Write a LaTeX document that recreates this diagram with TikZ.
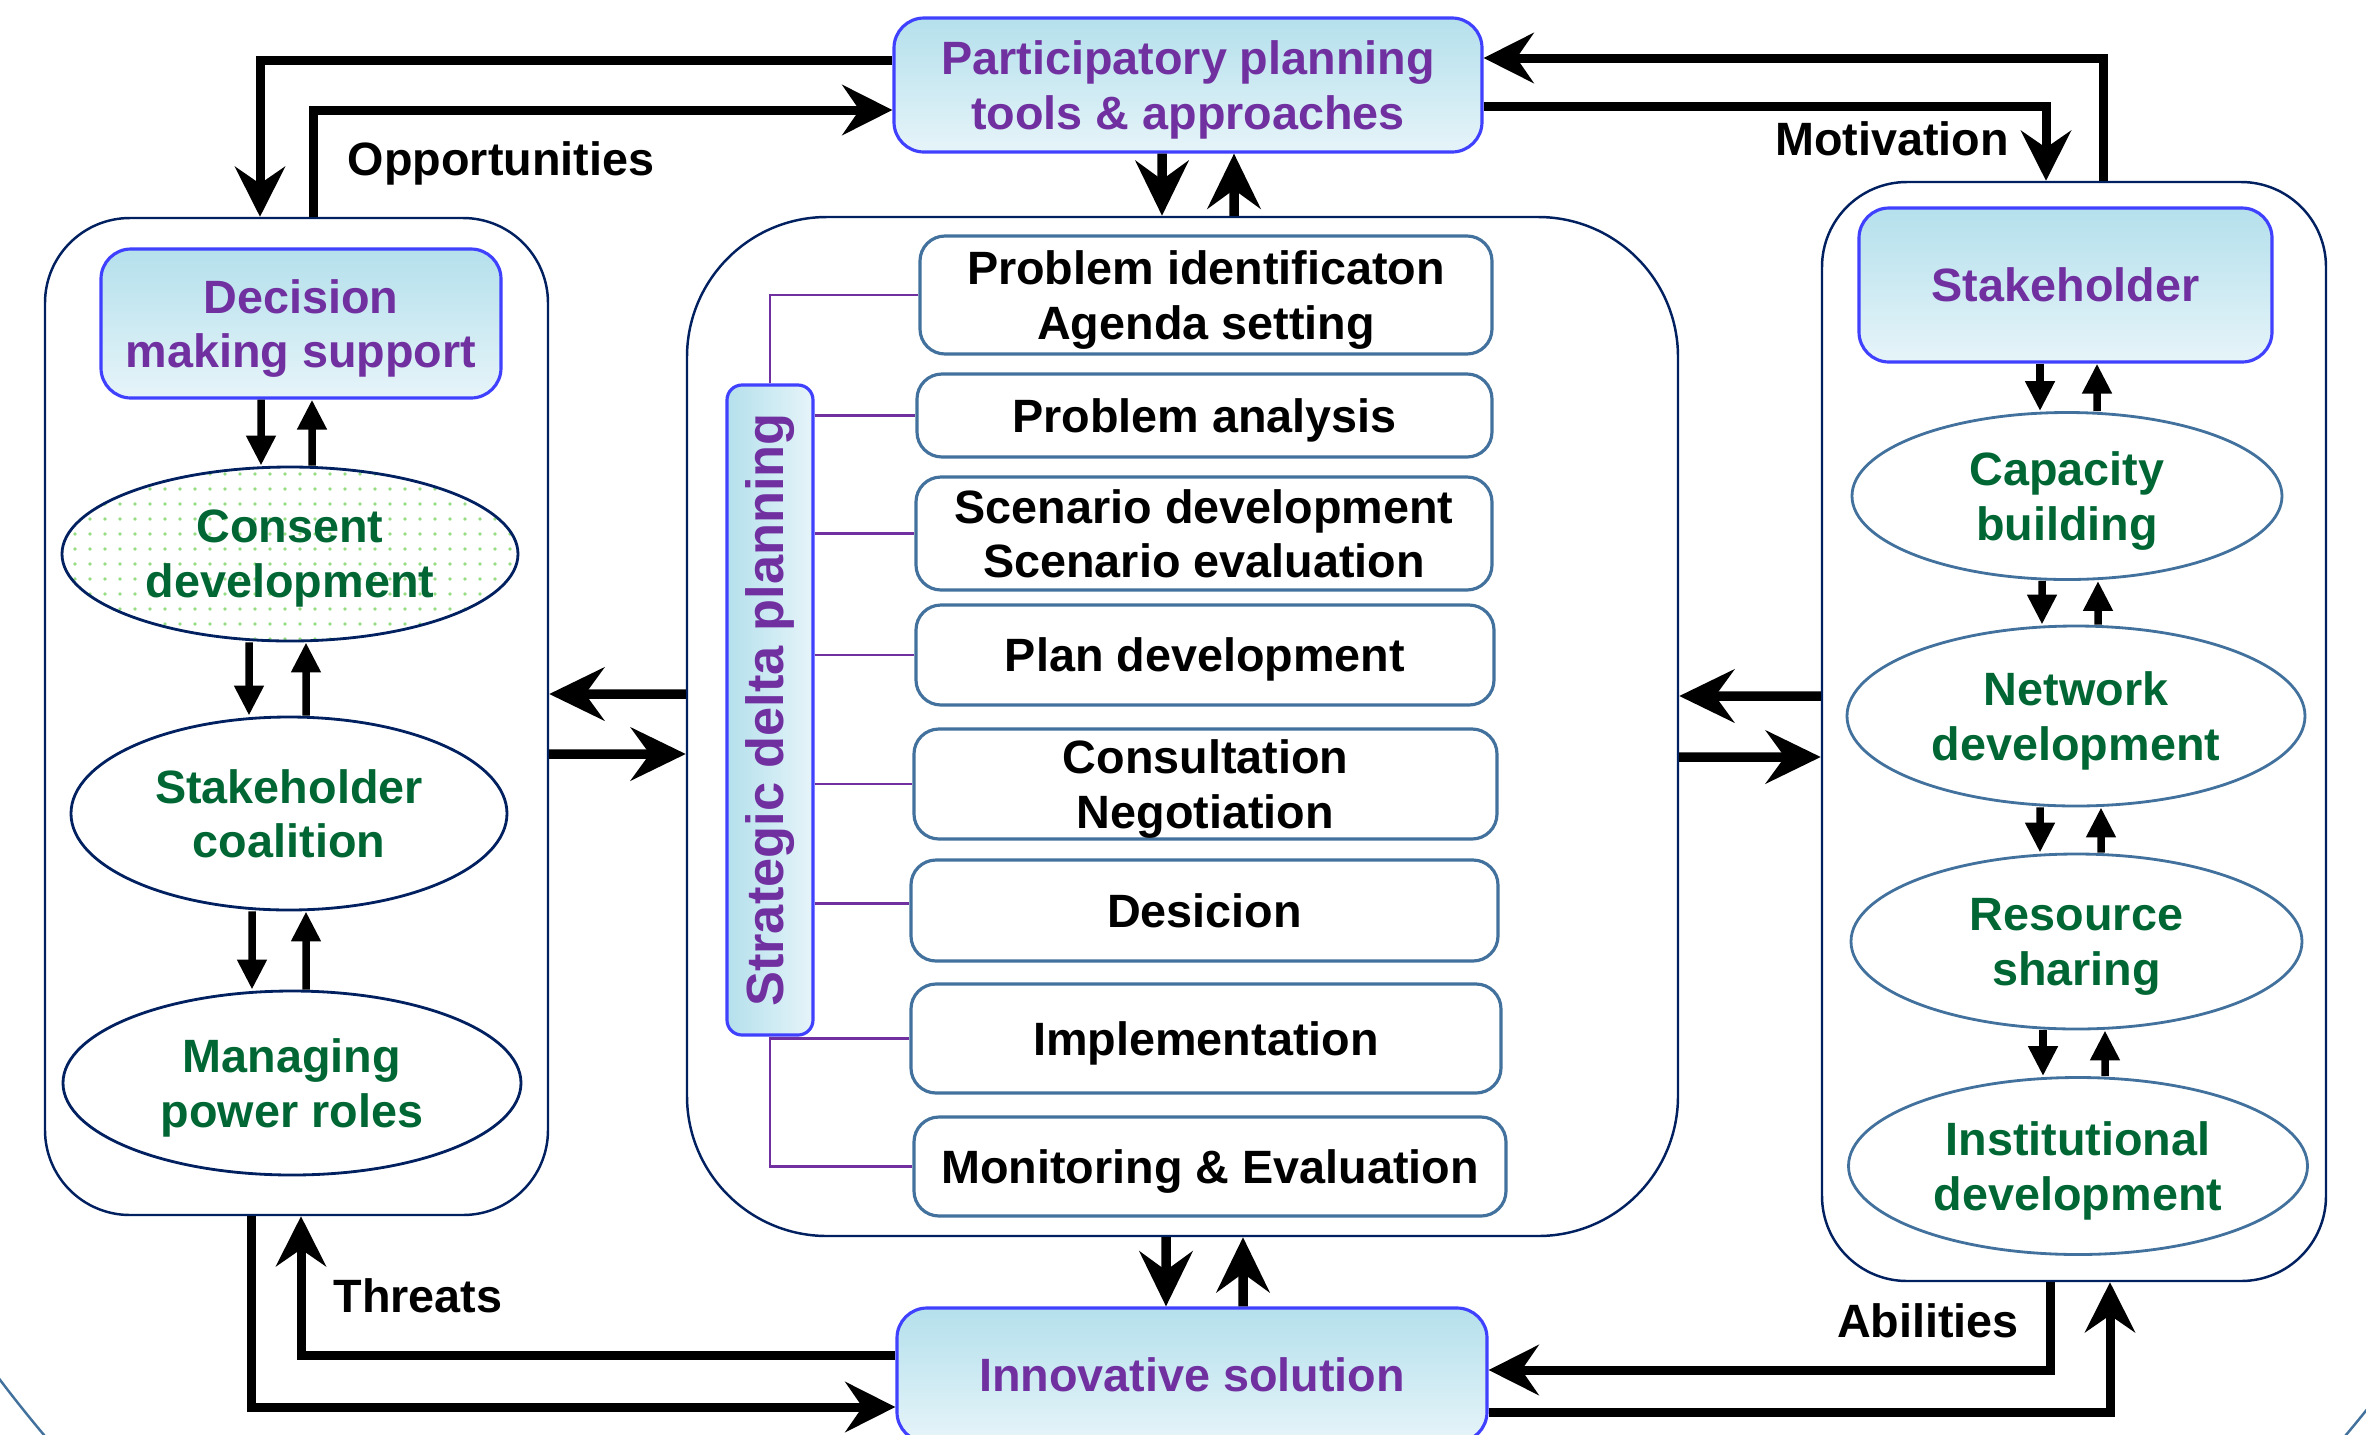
\documentclass[tikz,border=0pt]{standalone}
\usepackage{fontspec}
\setmainfont{Liberation Sans}
\usepackage{graphicx}
\usetikzlibrary{arrows.meta,shapes.geometric,patterns.meta}

\definecolor{headblue}{RGB}{64,64,255}
\definecolor{headtop}{RGB}{180,224,236}
\definecolor{headbot}{RGB}{230,244,249}
\definecolor{txtpurple}{RGB}{112,48,160}
\definecolor{txtgreen}{RGB}{0,102,51}
\definecolor{navy}{RGB}{0,32,96}
\definecolor{stepblue}{RGB}{65,113,156}
\definecolor{dotgreen}{RGB}{150,220,130}

\tikzset{
    txt/.style = {font=\bfseries\fontsize{13.3}{15.6}\selectfont, text depth=0pt},
    headbox/.style = {txt, draw=headblue, line width=0.9pt, rounded corners=3mm,
        top color=headtop, bottom color=headbot, text=txtpurple, align=center, inner sep=0pt},
    stepbox/.style = {txt, draw=stepblue, line width=0.9pt, rounded corners=2.5mm,
        fill=white, align=center, inner sep=0pt},
    container/.style = {draw=navy, line width=0.7pt, rounded corners=8.5mm, inner sep=0pt},
    lellip/.style = {txt, ellipse, draw=navy, line width=0.8pt, text=txtgreen, align=center, inner sep=0pt},
    rellip/.style = {txt, ellipse, draw=stepblue, line width=0.8pt, text=txtgreen, align=center, inner sep=0pt},
    lbl/.style = {txt, anchor=base, inner sep=0pt},
    bigarrow/.style = {line width=0.9mm, -{Stealth[length=5mm, width=5mm, inset=1.7mm]}},
    midarrow/.style = {line width=0.95mm, -{Stealth[length=5.5mm, width=5.3mm, inset=1.9mm]}},
    smallarrow/.style = {line width=0.75mm, -{Triangle[length=3mm, width=2.8mm]}},
    twig/.style = {draw=txtpurple, line width=0.7pt}
}

\begin{document}
\begin{tikzpicture}[y=-1cm]
    \useasboundingbox (0,0) rectangle (23.66,14.34);
    \clip (0,0) rectangle (23.66,14.34);

    % background ring
    \draw [stepblue, line width=0.7pt] (11.95,6.00) ellipse [x radius=14.60, y radius=13.57];

    % containers
    \node [container, minimum width=5.03cm, minimum height=9.97cm] (lbox) at (2.965,7.165) {};
    \node [container, minimum width=9.91cm, minimum height=10.19cm, rounded corners=14mm] (cbox) at (11.825,7.265) {};
    \node [container, minimum width=5.04cm, minimum height=10.99cm] (rbox) at (20.74,7.315) {};

    % header boxes
    \node [headbox, minimum width=5.88cm, minimum height=1.34cm] (part) at (11.88,0.85)
        {Participatory planning\\tools \& approaches};
    \node [headbox, minimum width=5.90cm, minimum height=1.34cm] (inno) at (11.92,13.75)
        {Innovative solution};
    \node [headbox, minimum width=4.00cm, minimum height=1.49cm] (dms) at (3.01,3.235)
        {Decision\\making support};
    \node [headbox, minimum width=4.13cm, minimum height=1.54cm] (stk) at (20.655,2.85)
        {Stakeholder};

    % left column
    \node [lellip, minimum width=4.56cm, minimum height=1.74cm,
        pattern={Dots[distance=1.5mm, radius=0.18mm]}, pattern color=dotgreen] (cons) at (2.90,5.54)
        {Consent\\development};
    \node [lellip, minimum width=4.36cm, minimum height=1.93cm] (coal) at (2.89,8.135)
        {Stakeholder\\coalition};
    \node [lellip, minimum width=4.58cm, minimum height=1.84cm] (mpr) at (2.92,10.83)
        {Managing\\power roles};

    % right column
    \node [rellip, minimum width=4.30cm, minimum height=1.67cm] (cap) at (20.67,4.96)
        {Capacity\\building};
    \node [rellip, minimum width=4.58cm, minimum height=1.80cm] (net) at (20.76,7.16)
        {Network\\development};
    \node [rellip, minimum width=4.51cm, minimum height=1.75cm] (res) at (20.765,9.415)
        {Resource\\sharing};
    \node [rellip, minimum width=4.59cm, minimum height=1.77cm] (inst) at (20.78,11.66)
        {Institutional\\development};

    % planning steps
    \node [headbox, rounded corners=1.5mm, shading angle=90, left color=headtop, right color=headbot,
        minimum width=0.86cm, minimum height=6.50cm, font=\bfseries\fontsize{14.9}{16}\selectfont] (sdp) at (7.70,7.10)
        {\rotatebox{90}{Strategic delta planning}};
    \node [stepbox, minimum width=5.72cm, minimum height=1.18cm] (s1) at (12.06,2.95)
        {Problem identificaton\\Agenda setting};
    \node [stepbox, minimum width=5.75cm, minimum height=0.83cm] (s2) at (12.045,4.155)
        {Problem analysis};
    \node [stepbox, minimum width=5.76cm, minimum height=1.13cm] (s3) at (12.04,5.335)
        {Scenario development\\Scenario evaluation};
    \node [stepbox, minimum width=5.78cm, minimum height=1.00cm] (s4) at (12.05,6.55)
        {Plan development};
    \node [stepbox, minimum width=5.83cm, minimum height=1.10cm] (s5) at (12.055,7.84)
        {Consultation\\Negotiation};
    \node [stepbox, minimum width=5.87cm, minimum height=1.01cm] (s6) at (12.045,9.105)
        {Desicion};
    \node [stepbox, minimum width=5.90cm, minimum height=1.09cm] (s7) at (12.06,10.385)
        {Implementation};
    \node [stepbox, minimum width=5.92cm, minimum height=0.99cm] (s8) at (12.10,11.665)
        {Monitoring \& Evaluation};

    % twigs
    \draw [twig] (sdp.north) |- (s1.west);
    \draw [twig] (sdp.east |- s2.west) -- (s2.west);
    \draw [twig] (sdp.east |- s3.west) -- (s3.west);
    \draw [twig] (sdp.east |- s4.west) -- (s4.west);
    \draw [twig] (sdp.east |- s5.west) -- (s5.west);
    \draw [twig] ([yshift=0.7mm]sdp.east |- s6.west) -- ([yshift=0.7mm]s6.west);
    \draw [twig] (sdp.south |- s7.west) -- (s7.west);
    \draw [twig] (sdp.south) |- (s8.west);

    % labels
    \node [lbl] (opp) at (5.01,1.75) {Opportunities};
    \node [lbl] (mot) at (18.92,1.55) {Motivation};
    \node [lbl] (thr) at (4.18,13.12) {Threats};
    \node [lbl] (abi) at (19.28,13.37) {Abilities};

    % outer loops
    \draw [bigarrow] ([yshift=2.5mm]part.west) -| ([xshift=-3.65mm]lbox.north);
    \draw [bigarrow] ([xshift=1.65mm]lbox.north) |- ([yshift=-2.5mm]part.west);
    \draw [bigarrow] ([xshift=2.9mm]rbox.north) |- ([yshift=2.7mm]part.east);
    \draw [bigarrow] ([yshift=-2.1mm]part.east) -| ([xshift=-2.8mm]rbox.north);
    \draw [bigarrow] ([xshift=-4.55mm]lbox.south) |- ([yshift=-3.2mm]inno.west);
    \draw [bigarrow] ([yshift=2mm]inno.west) -| ([xshift=0.45mm]lbox.south);
    \draw [bigarrow] ([xshift=-2.4mm]rbox.south) |- ([yshift=0.5mm]inno.east);
    \draw [bigarrow] ([yshift=-3.7mm]inno.east) -| ([xshift=3.6mm]rbox.south);

    % to and from the centre
    \draw [midarrow] ([xshift=-2.6mm]part.south) -- ([xshift=-2.05mm]cbox.north);
    \draw [midarrow] ([xshift=5.15mm]cbox.north) -- ([xshift=4.6mm]part.south);
    \draw [midarrow] ([xshift=-1.65mm]cbox.south) -- ([xshift=-2.6mm]inno.north);
    \draw [midarrow] ([xshift=5.1mm]inno.north) -- ([xshift=6.05mm]cbox.south);
    \draw [midarrow] ([yshift=3.25mm]cbox.west) -- ([yshift=2.25mm]lbox.east);
    \draw [midarrow] ([yshift=-3.75mm]lbox.east) -- ([yshift=-2.75mm]cbox.west);
    \draw [midarrow] ([yshift=3.55mm]rbox.west) -- ([yshift=3.05mm]cbox.east);
    \draw [midarrow] ([yshift=-3.05mm]cbox.east) -- ([yshift=-2.55mm]rbox.west);

    % left column arrows
    \draw [smallarrow] ([xshift=-4mm]dms.south) -- ([xshift=-2.9mm]cons.north);
    \draw [smallarrow] ([xshift=2.2mm]cons.north) -- ([xshift=1.1mm]dms.south);
    \draw [smallarrow] ([xshift=-4.1mm]cons.south) -- ([xshift=-4mm]coal.north);
    \draw [smallarrow] ([xshift=1.7mm]coal.north) -- ([xshift=1.6mm]cons.south);
    \draw [smallarrow] ([xshift=-3.7mm]coal.south) -- ([xshift=-4mm]mpr.north);
    \draw [smallarrow] ([xshift=1.4mm]mpr.north) -- ([xshift=1.7mm]coal.south);

    % right column arrows
    \draw [smallarrow] ([xshift=-2.55mm]stk.south) -- ([xshift=-2.7mm]cap.north);
    \draw [smallarrow] ([xshift=3mm]cap.north) -- ([xshift=3.15mm]stk.south);
    \draw [smallarrow] ([xshift=-2.5mm]cap.south) -- ([xshift=-3.4mm]net.north);
    \draw [smallarrow] ([xshift=2.2mm]net.north) -- ([xshift=3.1mm]cap.south);
    \draw [smallarrow] ([xshift=-3.6mm]net.south) -- ([xshift=-3.65mm]res.north);
    \draw [smallarrow] ([xshift=2.45mm]res.north) -- ([xshift=2.5mm]net.south);
    \draw [smallarrow] ([xshift=-3.35mm]res.south) -- ([xshift=-3.5mm]inst.north);
    \draw [smallarrow] ([xshift=2.7mm]inst.north) -- ([xshift=2.85mm]res.south);
\end{tikzpicture}
\end{document}
